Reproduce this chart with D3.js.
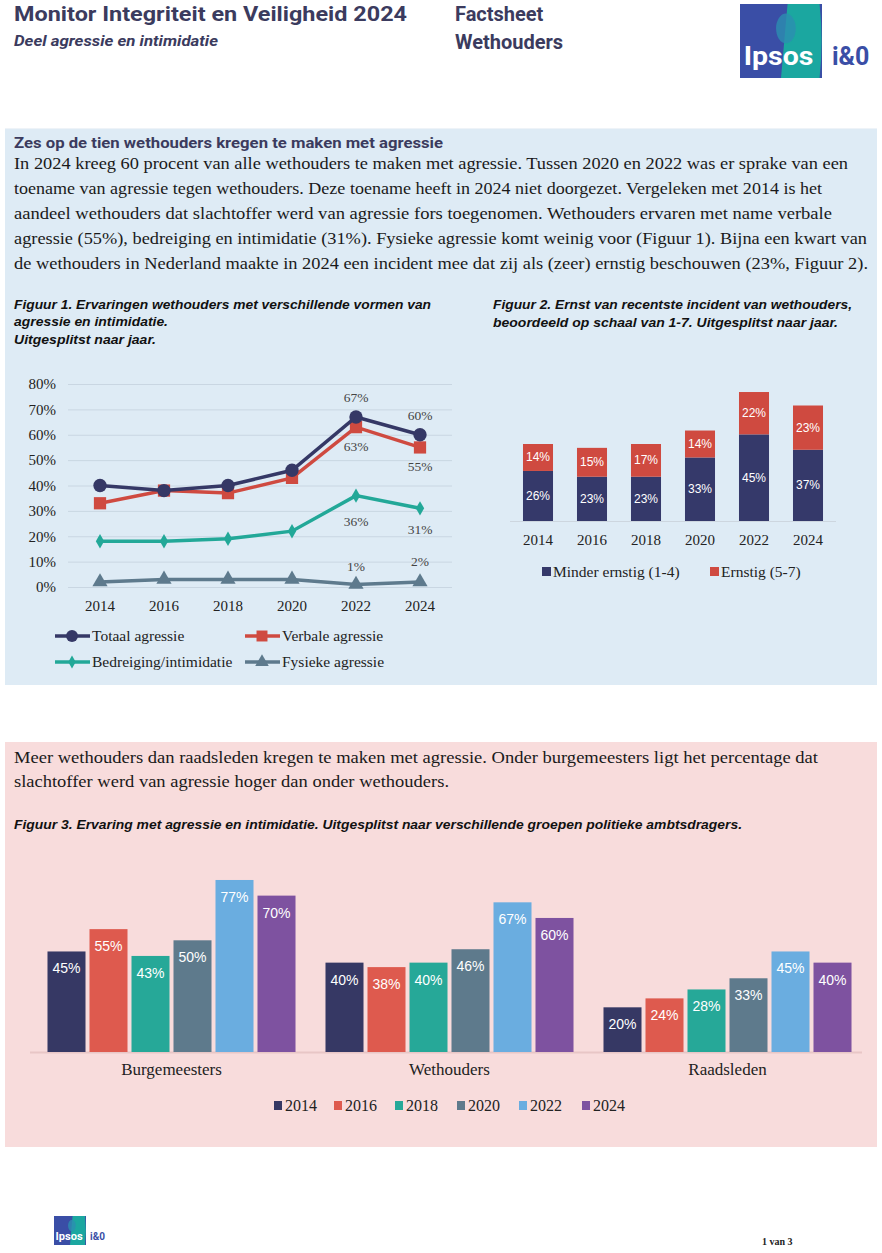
<!DOCTYPE html>
<html>
<head>
<meta charset="utf-8">
<script src="https://cdn.jsdelivr.net/npm/d3@7"></script>
<style>
  body { margin:0; background:#fff; }
  svg text { font-family: 'Liberation Serif', serif; }
</style>
</head>
<body>
<div class="page"></div>
<script>
// --- data ---
var years = ['2014', '2016', '2018', '2020', '2022', '2024'];
var yTicks = [0, 10, 20, 30, 40, 50, 60, 70, 80];

var totaal = [40, 38, 40, 46, 67, 60];
var verbale = [33, 38, 37, 43, 63, 55];
var bedreiging = [18, 18, 19, 22, 36, 31];
var fysieke = [2, 3, 3, 3, 1, 2];

var minderErnstig = [26, 23, 23, 33, 45, 37];
var ernstig = [14, 15, 17, 14, 22, 23];

var groepen = ['Burgemeesters', 'Wethouders', 'Raadsleden'];
var burgemeesters = [45, 55, 43, 50, 77, 70];
var wethouders = [40, 38, 40, 46, 67, 60];
var raadsleden = [20, 24, 28, 33, 45, 40];

var navy = '#353866', dark = '#3b3b5e';

var svg = d3.select('.page').append('svg')
  .attr('width', 882).attr('height', 1253);

function txt(s, x, y, size, opts) {
  opts = opts || {};
  var t = svg.append('text').text(s)
    .attr('x', x).attr('y', y)
    .style('font-size', size + 'px')
    .style('fill', opts.fill || '#222')
    .style('font-family', opts.family || "'Liberation Serif', serif");
  if (opts.weight) t.style('font-weight', opts.weight);
  if (opts.italic) t.style('font-style', 'italic');
  if (opts.anchor) t.attr('text-anchor', opts.anchor);
  if (opts.width) t.attr('textLength', opts.width).attr('lengthAdjust', 'spacingAndGlyphs');
  return t;
}

// --- header ---
var roboto = 'Roboto, sans-serif', arial = "'Liberation Sans', Arial, sans-serif";
txt('Monitor Integriteit en Veiligheid 2024', 14, 21, 20, {family: roboto, weight: 700, fill: dark, width: 393});
txt('Deel agressie en intimidatie', 14, 46, 14, {family: roboto, weight: 700, italic: true, fill: dark, width: 204});
txt('Factsheet', 455, 21, 20, {family: roboto, weight: 700, fill: dark});
txt('Wethouders', 455, 49, 20, {family: roboto, weight: 700, fill: dark});

function logo(x, y, w, h, big) {
  var g = svg.append('g').attr('transform', 'translate(' + x + ',' + y + ')');
  g.append('rect').attr('width', w).attr('height', h).attr('fill', '#3a4ea6');
  g.append('path').attr('d', 'M' + (w * 0.58) + ',0 L' + (w * 0.97) + ',0 Q' + (w * 1.02) + ',' + (h / 2) + ' ' + (w * 0.97) + ',' + h + ' L' + (w * 0.5) + ',' + h + ' Z')
    .attr('fill', '#1ba7a0');
  g.append('ellipse').attr('cx', w * 0.56).attr('cy', h * 0.33).attr('rx', w * 0.12).attr('ry', h * 0.2)
    .attr('fill', '#2c8fb0').attr('opacity', 0.8);
  g.append('text').text('Ipsos').attr('x', w * 0.47).attr('y', h * 0.82)
    .attr('text-anchor', 'middle')
    .attr('textLength', w * 0.85).attr('lengthAdjust', 'spacingAndGlyphs')
    .style('font-family', roboto).style('font-weight', 700)
    .style('font-size', (big ? 25 : 10) + 'px').style('fill', '#fff');
  svg.append('text').text('i&0').attr('x', x + w + (big ? 10 : 4)).attr('y', y + h * 0.82)
    .style('font-family', roboto).style('font-weight', 700)
    .style('font-size', (big ? 25 : 10) + 'px').style('fill', '#3a4ea6');
}
logo(740, 4, 82, 74, true);
logo(54, 1216, 32, 29, false);
txt('1 van 3', 762, 1245, 10, {weight: 700, fill: '#222'});

// --- blue panel ---
svg.append('rect').attr('x', 5).attr('y', 128).attr('width', 872).attr('height', 557).attr('fill', '#deebf5');
svg.append('line').attr('x1', 5).attr('x2', 877).attr('y1', 128.5).attr('y2', 128.5).attr('stroke', '#eef3f8');
txt('Zes op de tien wethouders kregen te maken met agressie', 14, 148, 15, {family: roboto, weight: 700, fill: dark, width: 429});

var para1 = [
  ['In 2024 kreeg 60 procent van alle wethouders te maken met agressie. Tussen 2020 en 2022 was er sprake van een', 834],
  ['toename van agressie tegen wethouders. Deze toename heeft in 2024 niet doorgezet. Vergeleken met 2014 is het', 808],
  ['aandeel wethouders dat slachtoffer werd van agressie fors toegenomen. Wethouders ervaren met name verbale', 818],
  ['agressie (55%), bedreiging en intimidatie (31%). Fysieke agressie komt weinig voor (Figuur 1). Bijna een kwart van', 853],
  ['de wethouders in Nederland maakte in 2024 een incident mee dat zij als (zeer) ernstig beschouwen (23%, Figuur 2).', 854]
];
para1.forEach(function(l, i) { txt(l[0], 14, 169 + i * 25, 16, {fill: '#1a1a1a', width: l[1]}); });

// Figuur 1 title
txt('Figuur 1. Ervaringen wethouders met verschillende vormen van', 14, 309, 13, {family: arial, weight: 700, italic: true, fill: '#111', width: 417});
txt('agressie en intimidatie.', 14, 326, 13, {family: arial, weight: 700, italic: true, fill: '#111', width: 154});
txt('Uitgesplitst naar jaar.', 14, 344, 13, {family: arial, weight: 700, italic: true, fill: '#111', width: 142});

// --- Figuur 1: lines ---
var x1 = d3.scaleBand().domain(years).range([68, 452]);
var y1 = d3.scaleLinear().domain([0, 80]).range([587, 384]);

var grid = svg.append('g').attr('transform', 'translate(68,0)')
  .call(d3.axisLeft(y1).tickValues(yTicks).tickSize(-384).tickPadding(12).tickFormat(function(d) { return d + '%'; }));
grid.select('.domain').remove();
grid.selectAll('.tick line').attr('stroke', '#c9d6e2');
grid.selectAll('.tick text').style('font-size', '15px').style('fill', '#222').style('font-family', "'Liberation Serif', serif");

var xa1 = svg.append('g').attr('transform', 'translate(0,587)')
  .call(d3.axisBottom(x1).tickSize(0).tickPadding(13));
xa1.select('.domain').remove();
xa1.selectAll('.tick text').style('font-size', '15px').style('fill', '#222').style('font-family', "'Liberation Serif', serif");

var series1 = [
  {name: 'Totaal agressie', values: totaal, color: navy, marker: 'circle', labelDy: -19},
  {name: 'Verbale agressie', values: verbale, color: '#cf4a40', marker: 'square', labelDy: 20},
  {name: 'Bedreiging/intimidatie', values: bedreiging, color: '#22a898', marker: 'diamond', labelDy: 26},
  {name: 'Fysieke agressie', values: fysieke, color: '#5e7a8d', marker: 'triangle', labelDy: -17}
];

function cx1(i) { return x1(years[i]) + x1.bandwidth() / 2; }

function marker(g, type, x, y, color, small) {
  var sym = {circle: d3.symbolCircle, square: d3.symbolSquare, diamond: d3.symbolDiamond, triangle: d3.symbolTriangle}[type];
  var size = {circle: 140, square: 150, diamond: 60, triangle: 100}[type];
  if (small) size = size * 0.8;
  g.append('path').attr('d', d3.symbol().type(sym).size(size)())
    .attr('transform', 'translate(' + x + ',' + y + ')')
    .attr('fill', color);
}

var line = d3.line().x(function(d, i) { return cx1(i); }).y(function(d) { return y1(d); });
var plot1 = svg.append('g');
series1.slice().reverse().forEach(function(s) {
  plot1.append('path').datum(s.values).attr('d', line)
    .attr('fill', 'none').attr('stroke', s.color).attr('stroke-width', 3.5);
  s.values.forEach(function(v, i) { marker(plot1, s.marker, cx1(i), y1(v), s.color); });
});
series1.forEach(function(s) {
  [4, 5].forEach(function(i) {
    var dy = s.labelDy;
    if (s.name === 'Fysieke agressie' && i === 5) dy = -20;
    if (s.name === 'Bedreiging/intimidatie' && i === 5) dy = 22;
    txt(s.values[i] + '%', cx1(i), y1(s.values[i]) + dy + 4, 13.5, {anchor: 'middle', fill: '#444'});
  });
});

// legend fig 1
var leg1 = [[55, 636], [245, 636], [55, 662], [245, 662]];
series1.forEach(function(s, i) {
  var p = leg1[i];
  svg.append('line').attr('x1', p[0]).attr('x2', p[0] + 35).attr('y1', p[1]).attr('y2', p[1])
    .attr('stroke', s.color).attr('stroke-width', 3.5);
  marker(svg, s.marker, p[0] + 17, p[1], s.color, true);
  txt(s.name, p[0] + 37, p[1] + 5, 15.5, {fill: '#222'});
});

// --- Figuur 2: stacked bars ---
txt('Figuur 2. Ernst van recentste incident van wethouders,', 493, 309, 13, {family: arial, weight: 700, italic: true, fill: '#111', width: 359});
txt('beoordeeld op schaal van 1-7. Uitgesplitst naar jaar.', 493, 327, 13, {family: arial, weight: 700, italic: true, fill: '#111', width: 345});

var x2 = d3.scaleBand().domain(years).range([511, 835]).paddingInner(0.444).paddingOuter(0.222);
var y2 = d3.scaleLinear().domain([0, 100]).range([521, 328.5]);

var stackData = years.map(function(y, i) { return {year: y, minder: minderErnstig[i], ernstig: ernstig[i]}; });
var stacked = d3.stack().keys(['minder', 'ernstig'])(stackData);
var colors2 = {minder: '#35396a', ernstig: '#cf4a40'};

svg.append('line').attr('x1', 510).attr('x2', 836).attr('y1', 521.5).attr('y2', 521.5).attr('stroke', '#cdd6df');
var plot2 = svg.append('g');
stacked.forEach(function(layer) {
  layer.forEach(function(d) {
    plot2.append('rect')
      .attr('x', x2(d.data.year)).attr('width', x2.bandwidth())
      .attr('y', y2(d[1])).attr('height', y2(d[0]) - y2(d[1]))
      .attr('fill', colors2[layer.key]);
    txt((d[1] - d[0]) + '%', x2(d.data.year) + x2.bandwidth() / 2, (y2(d[0]) + y2(d[1])) / 2 + 4, 12,
      {family: arial, anchor: 'middle', fill: '#fff'});
  });
});
var xa2 = svg.append('g').attr('transform', 'translate(0,521)')
  .call(d3.axisBottom(x2).tickSize(0).tickPadding(13));
xa2.select('.domain').remove();
xa2.selectAll('.tick text').style('font-size', '15px').style('fill', '#222').style('font-family', "'Liberation Serif', serif");

[['Minder ernstig (1-4)', 'minder', 542], ['Ernstig (5-7)', 'ernstig', 710]].forEach(function(l) {
  svg.append('rect').attr('x', l[2]).attr('y', 567).attr('width', 9).attr('height', 9).attr('fill', colors2[l[1]]);
  txt(l[0], l[2] + 11, 577, 15.5, {fill: '#222'});
});

// --- pink panel ---
svg.append('rect').attr('x', 5).attr('y', 742).attr('width', 872).attr('height', 405).attr('fill', '#f8dcdc');
txt('Meer wethouders dan raadsleden kregen te maken met agressie. Onder burgemeesters ligt het percentage dat', 14, 763, 16, {fill: '#1a1a1a', width: 804});
txt('slachtoffer werd van agressie hoger dan onder wethouders.', 14, 787, 16, {fill: '#1a1a1a', width: 435});
txt('Figuur 3. Ervaring met agressie en intimidatie. Uitgesplitst naar verschillende groepen politieke ambtsdragers.', 14, 829, 12.5,
  {family: arial, weight: 700, italic: true, fill: '#111', width: 728});

// --- Figuur 3: grouped bars ---
var x0 = d3.scaleBand().domain(groepen).range([32.5, 866.5]);
var x3 = d3.scaleBand().domain(years).range([0, x0.bandwidth()]).paddingInner(0.095).paddingOuter(0.357);
var y3 = d3.scaleLinear().domain([0, 100]).range([1052, 828.6]);
var colors3 = d3.scaleOrdinal().domain(years)
  .range(['#363864', '#de5a4e', '#26a898', '#5e7a8c', '#6aade0', '#7e52a0']);
var groepData = [burgemeesters, wethouders, raadsleden];

svg.append('line').attr('x1', 30).attr('x2', 862).attr('y1', 1052.5).attr('y2', 1052.5).attr('stroke', '#e8c6c6').attr('stroke-width', 2);
var plot3 = svg.append('g');
groepen.forEach(function(gname, gi) {
  var g = plot3.append('g').attr('transform', 'translate(' + x0(gname) + ',0)');
  g.selectAll('rect').data(groepData[gi]).enter().append('rect')
    .attr('x', function(d, i) { return x3(years[i]); })
    .attr('width', x3.bandwidth())
    .attr('y', function(d) { return y3(d); })
    .attr('height', function(d) { return y3(0) - y3(d); })
    .attr('fill', function(d, i) { return colors3(years[i]); });
  g.selectAll('text').data(groepData[gi]).enter().append('text')
    .text(function(d) { return d + '%'; })
    .attr('x', function(d, i) { return x3(years[i]) + x3.bandwidth() / 2; })
    .attr('y', function(d) { return y3(d) + 22; })
    .attr('text-anchor', 'middle')
    .style('font-family', "'Liberation Sans', sans-serif")
    .style('font-size', '14px').style('fill', '#fff');
});
var xa3 = svg.append('g').attr('transform', 'translate(0,1052)')
  .call(d3.axisBottom(x0).tickSize(0).tickPadding(11));
xa3.select('.domain').remove();
xa3.selectAll('.tick text').style('font-size', '17px').style('fill', '#222').style('font-family', "'Liberation Serif', serif");

var legX = [274, 334, 395, 457, 519, 582];
years.forEach(function(y, i) {
  svg.append('rect').attr('x', legX[i]).attr('y', 1101).attr('width', 8).attr('height', 9).attr('fill', colors3(y));
  txt(y, legX[i] + 11, 1111, 16, {fill: '#222'});
});
</script>
</body>
</html>
